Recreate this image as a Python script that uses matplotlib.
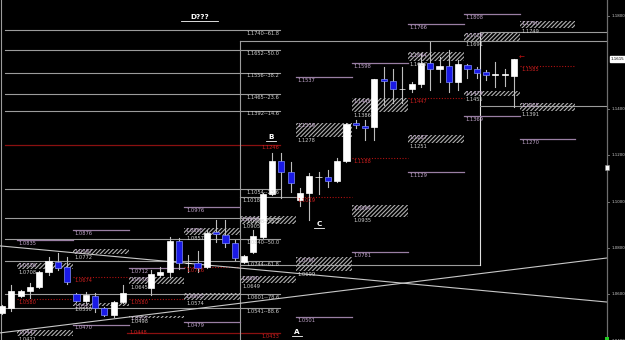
import numpy as np
import matplotlib.pyplot as plt
from matplotlib.patches import Rectangle

# daily candles, oldest first (nan = no bar)
opens = [1.0520, 1.0541, 1.0593, 1.0615, 1.0632, 1.0697, 1.0740, 1.0718, 1.0602, 1.0572,
         1.0593, 1.0541, 1.0511, 1.0567, np.nan, np.nan, 1.0628, 1.0684, 1.0697, 1.0830,
         1.0735, 1.0735, 1.0718, 1.0869, 1.0856, 1.0822, 1.0740, 1.0783, 1.0847, 1.1033,
         1.1175, 1.1128, 1.1007, 1.1037, 1.1106, 1.1106, 1.1089, 1.1175, 1.1339, 1.1326,
         1.1322, 1.1528, 1.1520, 1.1485, 1.1485, 1.1507, 1.1597, 1.1572, 1.1584, 1.1516,
         1.1589, 1.1572, 1.1559, 1.1546, 1.1546, 1.1541]
highs = [1.0554, 1.0641, 1.0620, 1.0649, 1.0701, 1.0761, 1.0778, 1.0761, 1.0606, 1.0610,
         1.0606, 1.0545, 1.0572, 1.0641, np.nan, np.nan, 1.0705, 1.0718, 1.0847, 1.0843,
         1.0770, 1.0787, 1.0878, 1.0921, 1.0921, 1.0834, 1.0770, 1.0878, 1.1037, 1.1209,
         1.1209, 1.1171, 1.1059, 1.1123, 1.1128, 1.1136, 1.1188, 1.1339, 1.1352, 1.1352,
         1.1528, 1.1580, 1.1572, 1.1580, 1.1516, 1.1641, 1.1688, 1.1623, 1.1653, 1.1610,
         1.1593, 1.1580, 1.1567, 1.1602, 1.1572, 1.1615]
lows = [1.0515, 1.0528, 1.0588, 1.0584, 1.0628, 1.0684, 1.0705, 1.0645, 1.0567, 1.0563,
        1.0524, 1.0507, 1.0503, 1.0563, np.nan, np.nan, 1.0597, 1.0675, 1.0675, 1.0709,
        1.0697, 1.0697, 1.0714, 1.0826, 1.0804, 1.0748, 1.0735, 1.0778, 1.0843, 1.1030,
        1.1016, 1.1041, 1.0981, 1.0921, 1.1033, 1.1063, 1.1084, 1.1171, 1.1317, 1.1266,
        1.1266, 1.1416, 1.1425, 1.1425, 1.1472, 1.1494, 1.1481, 1.1516, 1.1472, 1.1481,
        1.1533, 1.1533, 1.1524, 1.1494, 1.1498, 1.1408]
closes = [1.0550, 1.0615, 1.0615, 1.0632, 1.0697, 1.0744, 1.0714, 1.0653, 1.0572, 1.0597,
          1.0541, 1.0511, 1.0567, 1.0606, np.nan, np.nan, 1.0688, 1.0697, 1.0830, 1.0735,
          1.0737, 1.0714, 1.0865, 1.0860, 1.0822, 1.0757, 1.0766, 1.0852, 1.1033, 1.1175,
          1.1128, 1.1080, 1.1037, 1.1110, 1.1107, 1.1089, 1.1175, 1.1334, 1.1330, 1.1317,
          1.1528, 1.1520, 1.1485, 1.1486, 1.1507, 1.1597, 1.1572, 1.1584, 1.1516, 1.1593,
          1.1572, 1.1554, 1.1546, 1.1547, 1.1547, 1.1615]

# fibonacci sets
fib_hi_prices = [1.1740, 1.1652, 1.1556, 1.1465, 1.1392]
fib_hi_levels = ["61.8", "50.0", "38.2", "23.6", "14.6"]
fib_lo_prices = [1.1054, 1.0928, 1.0840, 1.0744, 1.0601, 1.0541]
fib_lo_levels = ["23.6", "38.2", "50.0", "61.8", "78.6", "88.6"]

# weekly projection columns
level_cols = [0, 1, 1, 2, 3, 3, 5, 5, 6, 6, 7, 7, 8, 8, 9]
level_prices = [1.0835, 1.0876, 1.0470, 1.0712, 1.0976, 1.0479, 1.1537, 1.0501,
                1.1598, 1.0781, 1.1766, 1.1129, 1.1808, 1.1369, 1.1270]
zone_cols = [0, 0, 1, 1, 2, 2, 3, 3, 4, 4, 5, 5, 6, 6, 7, 7, 8, 8, 9, 9]
zone_tops = [1.0736, 1.0447, 1.0797, 1.0561, 1.0676, 1.0507, 1.0888, 1.0605, 1.0937, 1.0680,
             1.1339, 1.0760, 1.1445, 1.0984, 1.1644, 1.1287, 1.1728, 1.1478, 1.1780, 1.1425]
zone_bots = [1.0708, 1.0421, 1.0772, 1.0550, 1.0645, 1.0498, 1.0857, 1.0574, 1.0905, 1.0649,
             1.1278, 1.0699, 1.1386, 1.0935, 1.1607, 1.1251, 1.1691, 1.1455, 1.1749, 1.1391]
red_cols = [0, 1, 2, 3, 5, 6, 7, 9]
red_prices = [1.0580, 1.0674, 1.0580, 1.0716, 1.1019, 1.1188, 1.1447, 1.1585]

# trend lines: price at left edge, price at right axis
trend_left = [1.0809, 1.0434]
trend_right = [1.0567, 1.0757]

axis_ticks = [1.18, 1.14, 1.12, 1.10, 1.08, 1.06, 1.04]
last_price = 1.1615

LAV = '#9a7fa4'
LAV_T = '#c2a6cc'
GRAY = '#9c9c9c'
RED = '#b01010'
FS = 3.7

plt.rcParams['hatch.linewidth'] = 0.8
fig = plt.figure(figsize=(6.25, 3.4), dpi=100, facecolor='black')
ax = fig.add_axes([0, 0, 1, 1], facecolor='black')
x0, x1 = -0.215, 66.92
y0, y1 = 1.04034, 1.18690
ax.set_xlim(x0, x1)
ax.set_ylim(y0, y1)
ax.axis('off')

AX_X = 65.0   # price axis
FIB_END = 29.86


def col_span(k):
    return 1.6 + 6 * k, 7.6 + 6 * k


def lab(x, y, s, color, ha='left', dy=-0.6):
    ax.annotate(s, (x, y), xytext=(0.5 if ha == 'left' else -0.3, dy), textcoords='offset points',
                ha=ha, va='top', fontsize=FS, color=color, zorder=6)


# left border
ax.plot([-0.1, -0.1], [y0, y1], color=GRAY, lw=0.8)

# fib lines
for p, l in zip(fib_hi_prices, fib_hi_levels):
    ax.plot([0.3, FIB_END], [p, p], color=GRAY, lw=0.8, zorder=2)
    lab(FIB_END, p, f"{p:.4f}--{l}", '#d0d0d0', ha='right')
for p, l in zip(fib_lo_prices, fib_lo_levels):
    ax.plot([0.3, FIB_END], [p, p], color=GRAY, lw=0.8, zorder=2)
    lab(FIB_END, p, f"{p:.4f}--{l}", '#d0d0d0', ha='right')

# red reference lines
ax.plot([0.3, FIB_END], [1.1246, 1.1246], color='#8a1010', lw=0.9, zorder=2)
lab(FIB_END, 1.1246, "1.1246", '#d02020', ha='right')
ax.plot([13.4, FIB_END], [1.0433, 1.0433], color='#8a1010', lw=0.9, zorder=2)
lab(FIB_END, 1.0433, "1.0433", '#d02020', ha='right')
lab(13.6, 1.0448, "1.0448", '#d02020')

# frame
ax.plot([25.6, AX_X], [1.1692, 1.1692], color=GRAY, lw=0.8, zorder=2)
ax.plot([25.6, 25.6], [y0, 1.1692], color=GRAY, lw=0.8, zorder=2)
ax.plot([25.6, 51.3], [1.0727, 1.0727], color=GRAY, lw=0.8, zorder=2)
ax.plot([51.3, 51.3], [1.0727, 1.1731], color='#e0e0e0', lw=0.8, zorder=2)
ax.plot([51.3, AX_X], [1.1731, 1.1731], color=GRAY, lw=0.8, zorder=2)
ax.plot([51.3, AX_X], [1.1410, 1.1410], color=GRAY, lw=0.8, zorder=2)
ax.plot([25.6, 31.6], [1.1018, 1.1018], color=GRAY, lw=0.8, zorder=2)
lab(25.75, 1.1018, "1.1018", '#d0d0d0')

# trend lines
for pl, pr in zip(trend_left, trend_right):
    ax.plot([x0, AX_X], [pl, pr], color='#c8c8c8', lw=0.8, zorder=3)

# projection levels
for k, p in zip(level_cols, level_prices):
    a, b = col_span(k)
    ax.plot([a, b], [p, p], color=LAV, lw=0.9, zorder=2)
    lab(a + 0.1, p, f"{p:.4f}", LAV_T)
for k, top, bot in zip(zone_cols, zone_tops, zone_bots):
    a, b = col_span(k)
    ax.add_patch(Rectangle((a, bot), b - a, top - bot, facecolor='none', edgecolor='#b0b0b0',
                           lw=0, hatch='////////', zorder=2))
    ax.text(a + 0.15, top - 0.0002, f"{top:.4f}", fontsize=FS, color=LAV_T, va='top', zorder=6)
    lab(a + 0.1, bot, f"{bot:.4f}", '#d0d0d0')
for k, p in zip(red_cols, red_prices):
    a, b = col_span(k)
    ax.plot([a, b], [p, p], color=RED, lw=0.8, ls=(0, (1, 1.5)), zorder=2)
    lab(a + 0.1, p, f"{p:.4f}", '#d02020')

# candles
for i, (o, h, l, c) in enumerate(zip(opens, highs, lows, closes)):
    if np.isnan(o):
        continue
    ax.plot([i, i], [l, h], color='#bdbdbd', lw=0.8, zorder=4)
    lo, hi = min(o, c), max(o, c)
    ht = max(hi - lo, 0.0002)
    if c >= o:
        fc, ec = 'white', 'white'
    else:
        fc, ec = '#1a1ae6', '#7f8cff'
    ax.add_patch(Rectangle((i - 0.33, lo), 0.66, ht, facecolor=fc, edgecolor=ec, lw=0.5, zorder=5))

# wave letters
for s, x, y in [("D???", 21.2, 1.1783), ("B", 28.9, 1.1266), ("C", 34.05, 1.0891), ("A", 31.7, 1.0425)]:
    ax.text(x, y, s, color='white', fontsize=5.2, fontweight='bold', ha='center', va='bottom', zorder=7)
    w = 0.5 * len(s)
    ax.plot([x - w, x + w], [y - 0.0004, y - 0.0004], color='white', lw=0.6, zorder=7)

# current price arrow
ax.text(55.5, last_price + 0.0006, "\u2190", color='#c01010', fontsize=5, va='center', ha='left', zorder=7)

# price axis
ax.plot([AX_X, AX_X], [y0, y1], color='#6e6e6e', lw=0.9, zorder=3)
for t in axis_ticks:
    ax.plot([AX_X, AX_X + 0.25], [t, t], color='#8a8a8a', lw=0.6)
    ax.text(AX_X + 0.45, t, f"{t:.4f}", fontsize=2.9, color='#d0d0d0', va='center', ha='left')
ax.text(AX_X + 0.35, last_price, f"{last_price:.4f}", fontsize=2.9, color='black', va='center', ha='left',
        bbox=dict(boxstyle='square,pad=0.15', facecolor='white', edgecolor='white'), zorder=8)
ax.add_patch(Rectangle((AX_X - 0.25, 1.1135), 0.5, 0.0022, facecolor='white', edgecolor='#888888', lw=0.4, zorder=8))
ax.add_patch(Rectangle((AX_X - 0.25, y0), 0.5, 0.0015, facecolor='#22cc22', lw=0, zorder=8))

fig.savefig('out.png', dpi=100, facecolor='black')
